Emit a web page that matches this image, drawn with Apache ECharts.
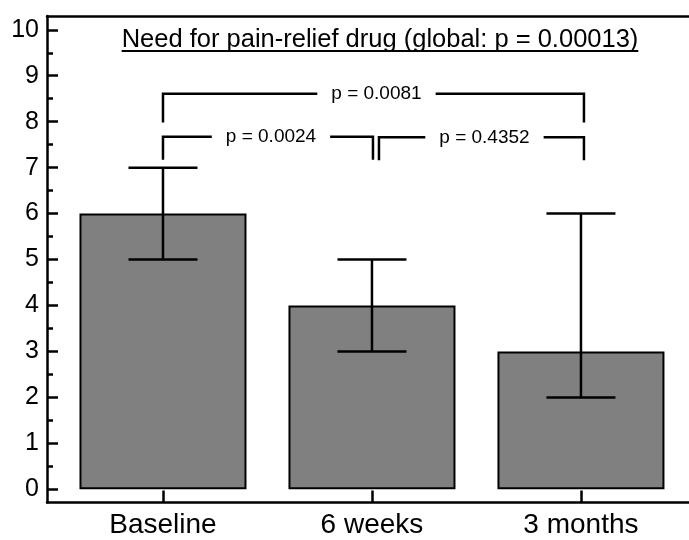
<!DOCTYPE html>
<html>
<head>
<meta charset="utf-8">
<script src="https://cdn.jsdelivr.net/npm/echarts@6/dist/echarts.min.js"></script>
<style>
  html, body { margin: 0; padding: 0; background: #fff; }
  #chart { width: 689px; height: 540px; }
</style>
</head>
<body>
<div id="chart"></div>
<script>
// Need for pain-relief drug at three time points: median bars with range whiskers
const categories = ['Baseline', '6 weeks', '3 months'];
const medians = [6, 4, 3];
const lowerQ = [5, 3, 2];
const upperQ = [7, 5, 6];

// Pairwise comparisons: [from category, to category, bracket level, drop level, label]
const comparisons = [
  [0, 2, 8.61, 7.98, 'p = 0.0081'],
  [0, 1, 7.67, 7.17, 'p = 0.0024'],
  [1, 2, 7.66, 7.16, 'p = 0.4352']
];
const titleText = 'Need for pain-relief drug (global: p = 0.00013)';

const majorTicks = [0, 1, 2, 3, 4, 5, 6, 7, 8, 9, 10];
const minorTicks = [0.5, 1.5, 2.5, 3.5, 4.5, 5.5, 6.5, 7.5, 8.5, 9.5];
const catPositions = [0, 1, 2];

const FONT = '"Liberation Sans", Arial, Helvetica, sans-serif';
// small pixel nudges for bracket ends so adjacent brackets do not overlap
const bracketNudge = [[0, 3], [0, 1], [7, 3]];

const chart = echarts.init(document.getElementById('chart'), null, { renderer: 'canvas' });

const TITLE_FONT = '25.5px ' + FONT;
const measure = document.createElement('canvas').getContext('2d');
measure.font = TITLE_FONT;
const titleWidth = measure.measureText(titleText).width;
const titleX = 380;

const yMin = -0.287, yMax = 10.30;
const xMin = -0.555, xMax = 2.517;

const option = {
  animation: false,
  backgroundColor: '#ffffff',
  grid: { left: 47, right: 0, top: 16, bottom: 37.5, containLabel: false },
  xAxis: [
    {
      type: 'value', position: 'bottom', min: xMin, max: xMax,
      axisLine: { show: true, onZero: false, lineStyle: { color: '#000', width: 2.5 } },
      axisTick: { show: true, inside: true, length: 12, customValues: catPositions,
        lineStyle: { color: '#000', width: 2.5 } },
      axisLabel: { show: true, customValues: catPositions, margin: 9,
        formatter: v => categories[Math.round(v)] || '',
        color: '#000', fontSize: 28, fontFamily: FONT },
      splitLine: { show: false }
    },
    {
      type: 'value', position: 'top', min: xMin, max: xMax,
      axisLine: { show: true, onZero: false, lineStyle: { color: '#000', width: 2.5 } },
      axisTick: { show: false }, axisLabel: { show: false }, splitLine: { show: false }
    }
  ],
  yAxis: [
    {
      type: 'value', position: 'left', min: yMin, max: yMax,
      axisLine: { show: true, onZero: false, lineStyle: { color: '#000', width: 2.5 } },
      axisTick: { show: true, inside: true, length: 11, customValues: majorTicks,
        lineStyle: { color: '#000', width: 2.5 } },
      axisLabel: { show: true, customValues: majorTicks, margin: 8,
        color: '#000', fontSize: 25, fontFamily: FONT },
      splitLine: { show: false }
    },
    {
      type: 'value', position: 'left', min: yMin, max: yMax,
      axisLine: { show: false, onZero: false },
      axisTick: { show: true, inside: true, length: 6, customValues: minorTicks,
        lineStyle: { color: '#000', width: 2.5 } },
      axisLabel: { show: false }, splitLine: { show: false }
    }
  ],
  graphic: [
    {
      type: 'text', left: titleX - titleWidth / 2, top: 27, z: 10,
      style: { text: titleText, fill: '#000', font: TITLE_FONT }
    },
    {
      type: 'rect', z: 10,
      shape: { x: titleX - titleWidth / 2, y: 50, width: titleWidth, height: 2 },
      style: { fill: '#000' }
    }
  ],
  series: [
    {
      type: 'bar', xAxisIndex: 0, yAxisIndex: 0,
      data: medians.map((v, i) => [catPositions[i], v]),
      barWidth: 167,
      itemStyle: { color: '#808080', borderColor: '#000', borderWidth: 2 },
      z: 2
    },
    {
      type: 'custom', xAxisIndex: 0, yAxisIndex: 0, z: 3,
      data: lowerQ.map((lo, i) => [catPositions[i], lo, upperQ[i]]),
      renderItem: function (params, api) {
        const x = api.value(0);
        const lo = api.coord([x, api.value(1)]);
        const hi = api.coord([x, api.value(2)]);
        const half = 34.5;
        const st = { stroke: '#000', lineWidth: 2.5 };
        return {
          type: 'group',
          children: [
            { type: 'line', shape: { x1: lo[0], y1: lo[1], x2: hi[0], y2: hi[1] }, style: st },
            { type: 'line', shape: { x1: lo[0] - half, y1: lo[1], x2: lo[0] + half, y2: lo[1] }, style: st },
            { type: 'line', shape: { x1: hi[0] - half, y1: hi[1], x2: hi[0] + half, y2: hi[1] }, style: st }
          ]
        };
      }
    },
    {
      type: 'custom', xAxisIndex: 0, yAxisIndex: 0, z: 4,
      data: comparisons.map(c => [c[0], c[1], c[2], c[3]]),
      renderItem: function (params, api) {
        const i = params.dataIndex;
        const a = api.coord([api.value(0), api.value(2)]);
        const b = api.coord([api.value(1), api.value(2)]);
        const d = api.coord([api.value(0), api.value(3)]);
        const x1 = a[0] + bracketNudge[i][0];
        const x2 = b[0] + bracketNudge[i][1];
        const yTop = a[1], yDrop = d[1];
        return {
          type: 'group',
          children: [
            { type: 'polyline',
              shape: { points: [[x1, yDrop], [x1, yTop], [x2, yTop], [x2, yDrop]] },
              style: { stroke: '#000', lineWidth: 2.5, fill: null } },
            { type: 'text', z2: 10,
              x: (x1 + x2) / 2 + 3, y: yTop,
              style: { text: comparisons[i][4], fill: '#000', font: '19px ' + FONT,
                align: 'center', verticalAlign: 'middle',
                backgroundColor: '#fff', padding: [2, 14] } }
          ]
        };
      }
    }
  ]
};

chart.setOption(option);
</script>
</body>
</html>
